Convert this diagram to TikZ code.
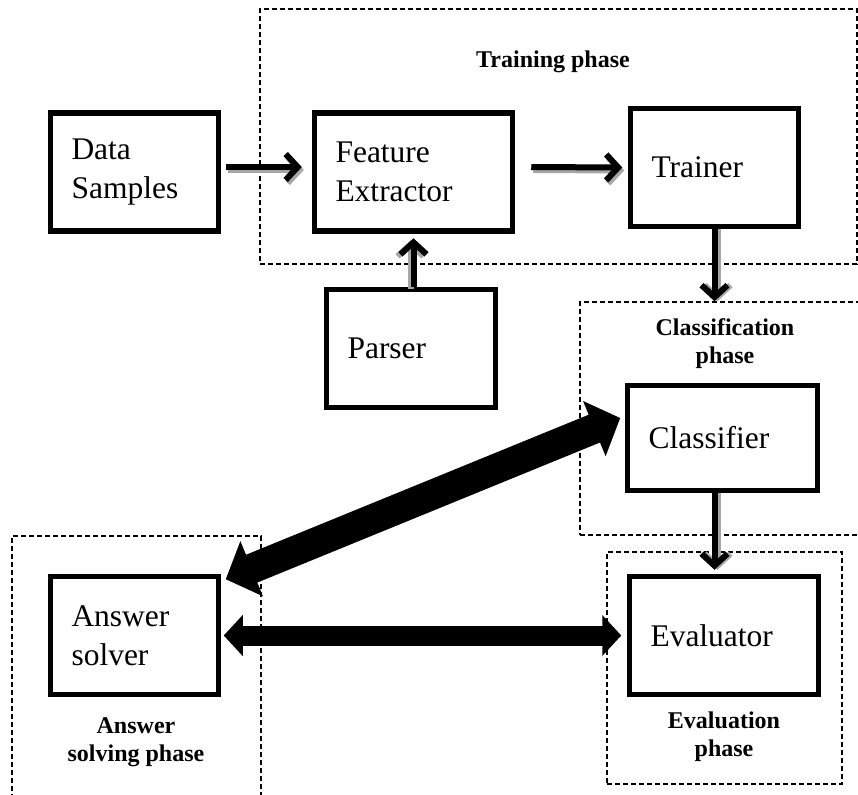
\documentclass[tikz,border=0pt]{standalone}
\usepackage{fontspec}
\setmainfont{Liberation Serif}
\usetikzlibrary{arrows.meta,fit}

\begin{document}
\begin{tikzpicture}[x=0.5pt, y=-0.5pt,
    box/.style = {draw, line width=2.75pt, inner xsep=10.5pt,
        minimum height=59pt, text width=#1, align=left,
        font=\fontsize{15.75}{19.5}\selectfont},
    frame/.style = {draw, line width=0.75pt, dash pattern=on 2.6pt off 1.4pt,
        inner sep=0pt},
    phase/.style = {align=center, font=\fontsize{12}{14}\selectfont\bfseries},
    flow/.style = {line width=3pt, -{Straight Barb[length=6pt,width=13pt]},
        preaction={draw=black!35, line width=3pt,
            -{Straight Barb[length=6pt,width=13pt]},
            transform canvas={shift={#1}}}},
    flow/.default = {(1pt,-1.5pt)},
    wide/.style = {line width=15pt,
        {Triangle[length=14pt,width=29pt]}-{Triangle[length=14pt,width=29pt]}},
    flat/.style = {line width=10pt,
        {Triangle[length=9.5pt,width=20pt]}-{Triangle[length=9.5pt,width=20pt]}}]
  \clip (0,0) rectangle (858,794);

  % phase frames
  \node (trainframe) [frame, fit={(260,9) (857,264)}] {};
  \node (clsframe) [frame, fit={(580,302) (880,535)}] {};
  \node (evalframe) [frame, fit={(607,552) (842,784)}] {};
  \node (ansframe) [frame, fit={(12,536) (261,820)}] {};

  \node (trainlbl) [phase] at (553,62) {Training phase};
  \node (clslbl) [phase] at (725,344) {Classification\\phase};
  \node (evallbl) [phase] at (724,737) {Evaluation\\phase};
  \node (anslbl) [phase] at (136,742) {Answer\\solving phase};

  % blocks
  \node (data) [box=63pt] at (134.5,172) {Data\\Samples};
  \node (feat) [box=78pt] at (413.5,172) {Feature\\Extractor};
  \node (trainer) [box=63pt] at (714.5,167.5) {Trainer};
  \node (parser) [box=63.5pt] at (411,348.5) {Parser};
  \node (cls) [box=74pt, minimum height=52.5pt] at (722.5,438) {Classifier};
  \node (eval) [box=73.5pt] at (724,635.5) {Evaluator};
  \node (ans) [box=63pt] at (134.5,635.5) {Answer\\solver};

  \draw[flow] ([xshift=2.25pt,yshift=2.5pt]data.east)
    -- ([xshift=-5pt,yshift=2.5pt]feat.west);
  \draw[flow] ([xshift=8pt,yshift=2.5pt]feat.east)
    -- ([xshift=-2.75pt]trainer.west);
  \draw[flow={(-1.5pt,-1pt)}] (feat.south |- parser.north)
    -- ([yshift=-2.25pt]feat.south);
  \draw[flow={(1.5pt,0pt)}] (trainer.south) -- (trainer.south |- clsframe.north);
  \draw[flow={(1.5pt,0pt)}] (trainer.south |- cls.south)
    -- ([yshift=2pt]trainer.south |- eval.north);

  \draw[wide] ([xshift=-2.25pt,yshift=10pt]cls.west)
    -- ([xshift=2.25pt,yshift=-2.75pt]ans.north east);
  \draw[flat] ([xshift=1.25pt]ans.east) -- ([xshift=-2.75pt]eval.west);
\end{tikzpicture}
\end{document}
